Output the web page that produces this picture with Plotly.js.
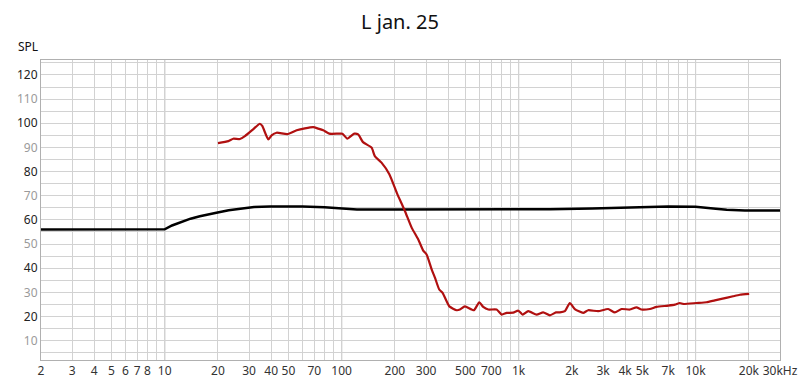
<!DOCTYPE html>
<html>
<head>
<meta charset="utf-8">
<script src="https://cdn.plot.ly/plotly-3.0.1.min.js"></script>
<style>html,body{margin:0;padding:0;background:#fff;}#chart{width:800px;height:385px;}</style>
</head>
<body>
<div id="chart"></div>
<script>
// Black curve (reference)
const blackFreq = [2, 10, 11, 12.7, 14, 15.8, 17.5, 19.6, 23, 26.8, 32, 39.4, 60, 80, 100, 122, 200, 500, 1000, 1500, 2600, 3800, 4900, 7000, 10000, 11500, 13000, 15000, 17000, 19000, 30000];
const blackSPL  = [56, 56.1, 57.7, 59.5, 60.5, 61.5, 62.3, 63.0, 64.0, 64.7, 65.3, 65.6, 65.6, 65.2, 64.7, 64.3, 64.3, 64.3, 64.3, 64.4, 64.7, 65.1, 65.4, 65.5, 65.4, 65.1, 64.6, 64.2, 64.0, 63.9, 63.9];

// Red curve (measurement L jan. 25)
const redFreq = [20, 22.9, 24.4, 26.6, 28.4, 31.6, 34.5, 35.6, 38.5, 40.2, 42.9, 49.3, 55.7, 62, 69.1, 73.7, 78.7, 85.1, 95.7, 101, 107.6, 117.8, 124, 132, 147.7, 154, 168, 186, 205, 228, 249, 271, 289, 302, 323, 337, 356, 372, 406, 447, 466, 497, 559, 599, 631, 674, 751, 802, 856, 933, 996, 1054, 1133, 1264, 1377, 1503, 1625, 1711, 1826, 1948, 2078, 2316, 2472, 2816, 3207, 3497, 3815, 4248, 4634, 4946, 5515, 6017, 6999, 7638, 8150, 8512, 10123, 11528, 12845, 14004, 16292, 17782, 20087];
const redSPL  = [91.8, 92.6, 93.6, 93.5, 94.7, 97.5, 99.8, 98.9, 93.3, 95.0, 96.1, 95.5, 97.1, 97.9, 98.4, 97.8, 97.1, 95.7, 95.7, 95.7, 93.6, 95.7, 95.4, 92.2, 89.9, 86.4, 83.7, 78.9, 71.2, 63.6, 56.7, 51.9, 47.3, 45.7, 39.4, 36.0, 31.2, 29.8, 24.2, 22.6, 22.9, 24.2, 22.6, 25.9, 24.0, 22.9, 22.9, 20.8, 21.5, 21.6, 22.4, 20.8, 22.2, 20.8, 21.7, 20.5, 21.7, 21.7, 22.2, 25.6, 23.1, 21.5, 22.6, 22.2, 23.1, 21.7, 23.1, 22.9, 23.8, 22.9, 23.1, 24.0, 24.5, 24.9, 25.6, 25.2, 25.6, 25.9, 26.7, 27.3, 28.4, 29.0, 29.4];

// X ticks
const xTickVals = [2,3,4,5,6,7,8,9,10,20,30,40,50,60,70,80,90,100,200,300,400,500,600,700,800,900,1000,2000,3000,4000,5000,6000,7000,8000,9000,10000,20000,30000];
const xTickText = ['2','3','4','5','6','7','8','','10','20','30','40','50','','70','','','100','200','300','','500','','700','','','1k','2k','3k','4k','5k','','7k','','','10k','20k','30kHz'];
const decadeLines = [10, 100, 1000, 10000];

// Y ticks
const yTickVals = [5,10,15,20,25,30,35,40,45,50,55,60,65,70,75,80,85,90,95,100,105,110,115,120,125];
const yTickText = ['', '<span style="color:#9a9a9a">10</span>', '', '20', '', '<span style="color:#9a9a9a">30</span>', '', '40', '', '<span style="color:#9a9a9a">50</span>', '', '60', '', '<span style="color:#9a9a9a">70</span>', '', '80', '', '<span style="color:#9a9a9a">90</span>', '', '100', '', '<span style="color:#9a9a9a">110</span>', '', '120', ''];

const traces = [
  {x: blackFreq, y: blackSPL, type: 'scatter', mode: 'lines', line: {color: '#000000', width: 2.5, shape: 'linear'}, hoverinfo: 'skip', showlegend: false},
  {x: redFreq, y: redSPL, type: 'scatter', mode: 'lines', line: {color: '#b01010', width: 2.2, shape: 'spline', smoothing: 0.5}, hoverinfo: 'skip', showlegend: false}
];

const shapes = decadeLines.map(v => ({type: 'line', xref: 'x', yref: 'paper', x0: v, x1: v, y0: 0, y1: 1, line: {color: '#8a8a8a', width: 1}, layer: 'below'}));

const layout = {
  width: 800, height: 385,
  margin: {l: 41, r: 20, t: 60, b: 25},
  paper_bgcolor: '#ffffff', plot_bgcolor: '#ffffff',
  font: {family: 'Noto Sans, Open Sans, sans-serif', size: 12, color: '#222'},
  title: {text: 'L jan. 25', x: 0.5, xanchor: 'center', y: 0.943, yanchor: 'middle', font: {size: 20, color: '#111'}},
  xaxis: {type: 'log', range: [Math.log10(2), Math.log10(30000)], tickmode: 'array', tickvals: xTickVals, ticktext: xTickText,
          showgrid: true, gridcolor: '#d2d2d2', gridwidth: 1, zeroline: false, ticks: '', ticklen: 0,
          showline: true, linecolor: '#b0b0b0', linewidth: 1, mirror: true, tickfont: {size: 12, color: '#333'}, fixedrange: true},
  yaxis: {range: [2, 126.2], tickmode: 'array', tickvals: yTickVals, ticktext: yTickText,
          showgrid: true, gridcolor: '#d2d2d2', gridwidth: 1, zeroline: false, ticks: '', ticklen: 0,
          showline: true, linecolor: '#b0b0b0', linewidth: 1, mirror: true, tickfont: {size: 12, color: '#222'}, fixedrange: true},
  shapes: shapes,
  annotations: [{text: 'SPL', xref: 'paper', yref: 'paper', x: -0.034, y: 1.0, xanchor: 'left', yanchor: 'bottom', yshift: 3, showarrow: false, font: {size: 12, color: '#111'}}]
};

Plotly.newPlot('chart', traces, layout, {displayModeBar: false, staticPlot: true});
</script>
</body>
</html>
